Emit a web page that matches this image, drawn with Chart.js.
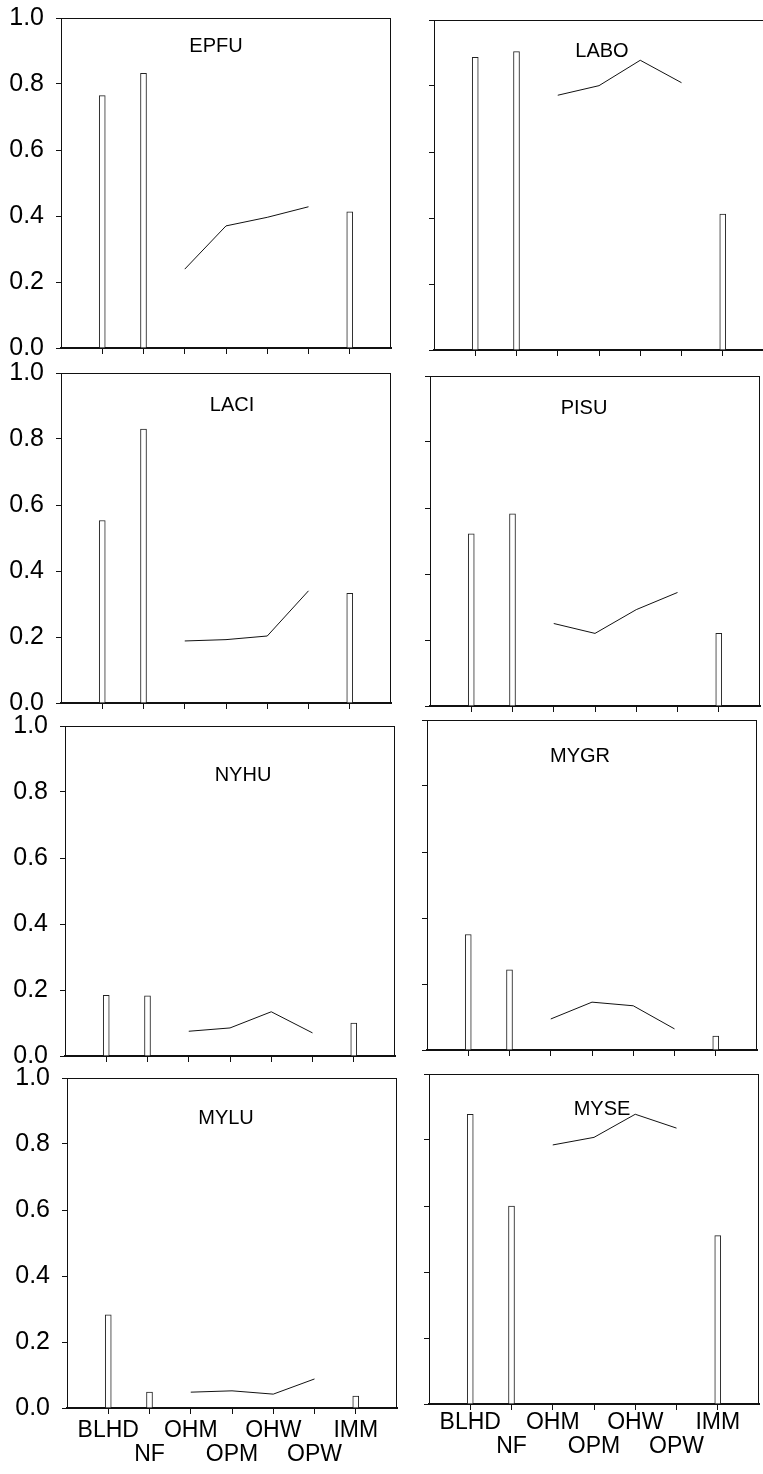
<!DOCTYPE html>
<html>
<head>
<meta charset="utf-8">
<script src="https://cdn.jsdelivr.net/npm/chart.js@4.4.1/dist/chart.umd.min.js"></script>
<style>
  html, body { margin: 0; padding: 0; background: #fff; overflow: hidden; }
  body { width: 763px; height: 1474px; position: relative; }
  .panel { position: absolute; }
</style>
</head>
<body>
<script>
// habitat categories along the x axis
const categories = ["BLHD", "NF", "OHM", "OPM", "OHW", "OPW", "IMM"];
const barCategories = ["BLHD", "NF", "IMM"];
const lineCategories = ["OHM", "OPM", "OHW", "OPW"];
const yTicks = [0, 0.2, 0.4, 0.6, 0.8, 1.0];

const species = ["EPFU", "LABO", "LACI", "PISU", "NYHU", "MYGR", "MYLU", "MYSE"];

// values in category order: BLHD, NF, OHM, OPM, OHW, OPW, IMM
const epfu = [0.765, 0.832, 0.239, 0.370, 0.396, 0.428, 0.413];
const labo = [0.887, 0.904, 0.772, 0.801, 0.878, 0.810, 0.412];
const laci = [0.553, 0.830, 0.188, 0.192, 0.203, 0.340, 0.332];
const pisu = [0.522, 0.582, 0.250, 0.220, 0.292, 0.344, 0.220];
const nyhu = [0.184, 0.182, 0.075, 0.085, 0.134, 0.070, 0.100];
const mygr = [0.350, 0.243, 0.094, 0.145, 0.134, 0.064, 0.042];
const mylu = [0.282, 0.048, 0.048, 0.052, 0.042, 0.088, 0.036];
const myse = [0.878, 0.600, 0.785, 0.808, 0.878, 0.836, 0.510];

const speciesValues = [epfu, labo, laci, pisu, nyhu, mygr, mylu, myse];

// plot area position of each panel on the page, title offset, x label padding
const panels = [
  { x: 61, y: 18, tx: 155, ty: 28 },
  { x: 434, y: 20, tx: 168, ty: 31 },
  { x: 61, y: 373, tx: 171, ty: 32 },
  { x: 430, y: 376, tx: 154, ty: 32 },
  { x: 65, y: 726, tx: 178, ty: 49 },
  { x: 427, y: 720, tx: 153, ty: 36 },
  { x: 67, y: 1078, tx: 159, ty: 40, lp: 4 },
  { x: 429, y: 1074, tx: 173, ty: 35, lp: 0 }
];

const FONT = '"Liberation Sans", Arial, sans-serif';
const AREA = 330, PAD_L = 61, PAD_T = 18, PAD_R = 4;

const framePlugin = {
  id: "frame",
  afterDraw(chart, args, opts) {
    const { ctx, chartArea: a } = chart;
    ctx.save();
    ctx.strokeStyle = "#111";
    ctx.lineWidth = 1;
    ctx.beginPath();
    ctx.moveTo(a.left, a.top + 0.5);
    ctx.lineTo(a.right, a.top + 0.5);
    ctx.moveTo(a.right - 0.5, a.top);
    ctx.lineTo(a.right - 0.5, a.bottom);
    ctx.stroke();
    ctx.font = "20px " + FONT;
    ctx.fillStyle = "#000";
    ctx.textAlign = "center";
    ctx.textBaseline = "middle";
    ctx.fillText(opts.text, a.left + opts.dx, a.top + opts.dy);
    ctx.restore();
  }
};

species.forEach((name, k) => {
  const p = panels[k];
  const vals = speciesValues[k];
  const leftCol = k % 2 === 0;
  const bottomRow = k >= 6;
  const xH = bottomRow ? 80 : 14;

  const canvas = document.createElement("canvas");
  canvas.className = "panel";
  canvas.width = PAD_L + AREA + PAD_R;
  canvas.height = PAD_T + AREA + xH;
  canvas.style.left = (p.x - PAD_L) + "px";
  canvas.style.top = (p.y - PAD_T) + "px";
  document.body.appendChild(canvas);

  const pos = c => categories.indexOf(c) + 1;

  new Chart(canvas, {
    type: "bar",
    data: {
      datasets: [
        {
          type: "bar",
          data: barCategories.map(c => ({ x: pos(c), y: vals[pos(c) - 1] })),
          backgroundColor: "#fff",
          borderColor: "#222",
          borderWidth: 1,
          barThickness: 6,
          grouped: false
        },
        {
          type: "line",
          data: lineCategories.map(c => ({ x: pos(c), y: vals[pos(c) - 1] })),
          borderColor: "#111",
          borderWidth: 1,
          pointRadius: 0,
          fill: false,
          tension: 0
        }
      ]
    },
    options: {
      responsive: false,
      animation: false,
      events: [],
      layout: { padding: { top: PAD_T, left: 0, right: PAD_R, bottom: 0 } },
      plugins: {
        legend: { display: false },
        tooltip: { enabled: false },
        frame: { text: name, dx: p.tx, dy: p.ty }
      },
      scales: {
        x: {
          type: "linear",
          min: 0,
          max: categories.length + 1,
          offset: false,
          afterBuildTicks: s => { s.ticks = categories.map((c, i) => ({ value: i + 1 })); },
          afterFit: s => { s.height = xH; s.paddingLeft = 0; s.paddingRight = 0; },
          grid: { drawOnChartArea: false, drawTicks: true, tickLength: 6, color: "#111", offset: false },
          border: { display: true, color: "#111", width: 2 },
          ticks: {
            display: bottomRow,
            autoSkip: false,
            maxRotation: 0,
            minRotation: 0,
            padding: p.lp || 0,
            color: "#000",
            font: { size: 23, family: FONT, lineHeight: 1.07 },
            callback: (v, i) => (i % 2 ? ["", categories[i]] : categories[i])
          }
        },
        y: {
          min: 0,
          max: 1,
          afterBuildTicks: s => { s.ticks = yTicks.map(v => ({ value: v })); },
          afterFit: s => { s.width = PAD_L; s.paddingTop = 0; s.paddingBottom = 0; },
          grid: { drawOnChartArea: false, drawTicks: true, tickLength: 5, color: "#111" },
          border: { display: true, color: "#111", width: 1 },
          ticks: {
            display: leftCol,
            padding: 12,
            color: "#000",
            font: { size: 25, family: FONT },
            callback: v => v.toFixed(1)
          }
        }
      }
    },
    plugins: [framePlugin]
  });
});
</script>
</body>
</html>
